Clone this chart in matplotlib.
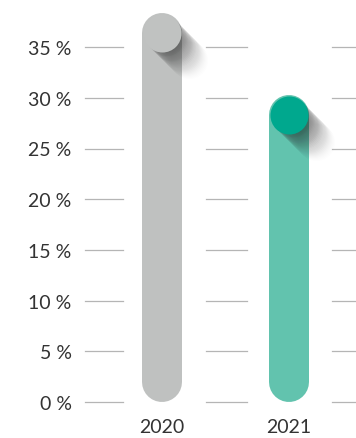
import matplotlib.pyplot as plt

years = ["2020", "2021"]
values = [36.4, 28.3]
bar_colors = ["#bfc1c0", "#62c3ae"]
dot_colors = ["#c0c2c1", "#00a88e"]
ticks = [0, 5, 10, 15, 20, 25, 30, 35]
tick_labels = [f"{t} %" for t in ticks]

W, H = 356, 439
fig = plt.figure(figsize=(W / 100, H / 100), dpi=100)
plt.rcParams['font.family'] = ['Lato', 'DejaVu Sans']

# axes placed in pixel terms
left_px, bottom_px = 78, 21
ax = fig.add_axes([left_px / W, bottom_px / H, 1 - left_px / W, 1 - bottom_px / H])
px_per_unit = 10.14       # pixels per 1 %
px_per_cat = 127          # pixels between the two bars
ax.set_xlim(-(162 - left_px) / px_per_cat, (W - 162) / px_per_cat)
ax.set_ylim(-(H - bottom_px - 403) / px_per_unit, 403 / px_per_unit)
for s in ax.spines.values():
    s.set_visible(False)

# short grid segments between the bars
segments = [(-0.61, -0.31), (0.35, 0.67), (1.34, 1.7)]
for t in ticks:
    for a, b in segments:
        ax.plot([a, b], [t, t], color="#b5b5b5", lw=0.9, zorder=0)

r = 20 / px_per_unit
for i, (v, bc, dc) in enumerate(zip(values, bar_colors, dot_colors)):
    ax.plot([i, i], [r, v], color=bc, lw=40 * 0.72, solid_capstyle="round", zorder=2)
    # soft diagonal shadow under the dot
    for k in range(1, 28):
        ax.scatter(i + k / px_per_cat, v - k / px_per_unit, s=720, color="#2a2a2a",
                   alpha=0.05 * (1 - k / 31), lw=0, zorder=3)
    ax.scatter(i, v, s=750, color=dc, lw=0, zorder=4)

ax.set_yticks(ticks, tick_labels)
ax.set_xticks([0, 1], years)
ax.tick_params(axis="y", length=0, pad=4.5, labelsize=14, labelcolor="#333333")
ax.tick_params(axis="x", length=0, pad=0.5, labelsize=14, labelcolor="#333333")

fig.savefig("out.png", dpi=100)
